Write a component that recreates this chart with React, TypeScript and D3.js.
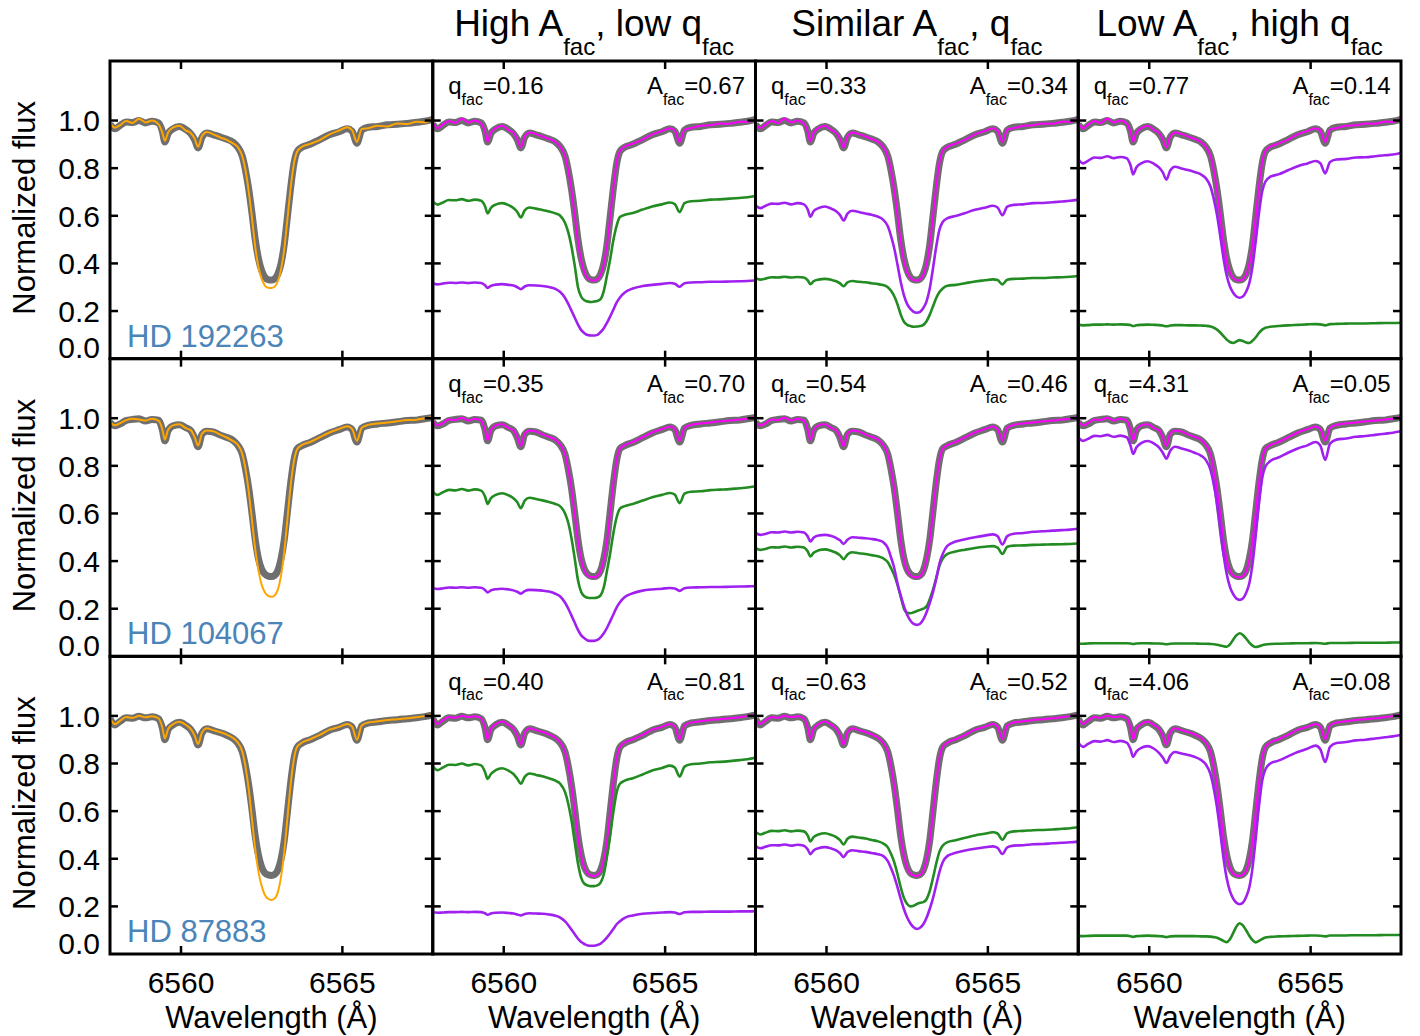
import React from 'react';
import * as d3 from 'd3';

// ---------------- DATA ----------------
const wavelength = [6557.8, 6557.95, 6558.1, 6558.3, 6558.5, 6558.7, 6558.9, 6559.1, 6559.3, 6559.42, 6559.5, 6559.6, 6559.75, 6559.95, 6560.15, 6560.3, 6560.42, 6560.53, 6560.65, 6560.8, 6561.0, 6561.2, 6561.4, 6561.6, 6561.75, 6561.9, 6562.0, 6562.1, 6562.2, 6562.3, 6562.4, 6562.5, 6562.6, 6562.7, 6562.8, 6562.9, 6563.0, 6563.1, 6563.2, 6563.3, 6563.4, 6563.5, 6563.6, 6563.75, 6564.0, 6564.3, 6564.6, 6564.9, 6565.15, 6565.3, 6565.45, 6565.6, 6565.8, 6566.1, 6566.4, 6566.7, 6567.0, 6567.3, 6567.55, 6567.8];

const obsR1 = [0.985, 0.965, 0.978, 0.994, 0.992, 1.0, 0.99, 0.997, 0.99, 0.955, 0.91, 0.945, 0.965, 0.975, 0.962, 0.945, 0.92, 0.885, 0.93, 0.948, 0.94, 0.932, 0.922, 0.91, 0.89, 0.85, 0.79, 0.71, 0.61, 0.5, 0.42, 0.37, 0.342, 0.332, 0.33, 0.335, 0.355, 0.4, 0.48, 0.6, 0.72, 0.82, 0.87, 0.888, 0.9, 0.92, 0.94, 0.953, 0.965, 0.955, 0.905, 0.96, 0.972, 0.975, 0.982, 0.984, 0.988, 0.993, 0.997, 1.005];
const obsR2 = [0.983, 0.968, 0.975, 0.99, 0.995, 0.998, 0.988, 0.995, 0.992, 0.952, 0.905, 0.948, 0.968, 0.972, 0.96, 0.948, 0.918, 0.88, 0.932, 0.945, 0.942, 0.93, 0.92, 0.908, 0.888, 0.848, 0.785, 0.705, 0.6, 0.49, 0.41, 0.365, 0.345, 0.337, 0.335, 0.34, 0.36, 0.41, 0.49, 0.61, 0.73, 0.825, 0.872, 0.885, 0.898, 0.918, 0.938, 0.952, 0.963, 0.952, 0.9, 0.958, 0.97, 0.976, 0.98, 0.985, 0.99, 0.992, 0.998, 1.003];
const obsR3 = [0.988, 0.962, 0.976, 0.992, 0.99, 0.998, 0.992, 0.996, 0.988, 0.95, 0.9, 0.942, 0.962, 0.973, 0.96, 0.943, 0.915, 0.878, 0.928, 0.946, 0.938, 0.93, 0.92, 0.906, 0.887, 0.848, 0.788, 0.708, 0.605, 0.495, 0.415, 0.365, 0.34, 0.332, 0.33, 0.334, 0.352, 0.398, 0.478, 0.6, 0.722, 0.82, 0.868, 0.886, 0.9, 0.918, 0.94, 0.952, 0.964, 0.953, 0.898, 0.958, 0.97, 0.975, 0.981, 0.984, 0.988, 0.992, 0.997, 1.004];

const singleR1 = [0.99, 0.97, 0.98, 0.998, 0.99, 1.008, 0.992, 1.0, 0.985, 0.95, 0.915, 0.95, 0.97, 0.978, 0.958, 0.948, 0.925, 0.89, 0.935, 0.952, 0.942, 0.93, 0.92, 0.905, 0.89, 0.85, 0.79, 0.7, 0.59, 0.47, 0.385, 0.335, 0.307, 0.298, 0.297, 0.302, 0.325, 0.375, 0.46, 0.59, 0.72, 0.82, 0.87, 0.89, 0.902, 0.918, 0.942, 0.958, 0.972, 0.96, 0.91, 0.965, 0.968, 0.978, 0.975, 0.988, 0.985, 0.995, 0.992, 1.008];
const singleR2 = [0.985, 0.97, 0.978, 0.992, 0.998, 0.995, 0.99, 0.998, 0.99, 0.955, 0.91, 0.952, 0.97, 0.975, 0.958, 0.95, 0.922, 0.885, 0.935, 0.948, 0.945, 0.932, 0.92, 0.905, 0.89, 0.85, 0.785, 0.69, 0.57, 0.45, 0.36, 0.3, 0.268, 0.254, 0.25, 0.256, 0.28, 0.34, 0.44, 0.58, 0.72, 0.82, 0.87, 0.888, 0.9, 0.92, 0.94, 0.955, 0.966, 0.955, 0.905, 0.96, 0.972, 0.978, 0.982, 0.987, 0.992, 0.994, 1.0, 1.005];
const singleR3 = [0.99, 0.965, 0.978, 0.995, 0.992, 1.0, 0.994, 0.998, 0.99, 0.952, 0.905, 0.945, 0.965, 0.975, 0.962, 0.945, 0.918, 0.882, 0.93, 0.948, 0.94, 0.932, 0.922, 0.908, 0.89, 0.85, 0.785, 0.69, 0.565, 0.44, 0.345, 0.285, 0.248, 0.232, 0.227, 0.233, 0.26, 0.325, 0.43, 0.575, 0.715, 0.82, 0.87, 0.888, 0.902, 0.92, 0.942, 0.954, 0.966, 0.955, 0.9, 0.96, 0.972, 0.977, 0.983, 0.986, 0.99, 0.994, 0.999, 1.006];

const fitR1 = [0.99, 0.968, 0.982, 0.998, 0.99, 1.008, 0.992, 1.0, 0.988, 0.952, 0.912, 0.95, 0.968, 0.978, 0.96, 0.948, 0.922, 0.888, 0.933, 0.95, 0.943, 0.933, 0.923, 0.91, 0.89, 0.85, 0.79, 0.705, 0.6, 0.49, 0.41, 0.362, 0.338, 0.33, 0.328, 0.333, 0.352, 0.398, 0.478, 0.6, 0.725, 0.825, 0.872, 0.89, 0.903, 0.92, 0.942, 0.956, 0.968, 0.958, 0.91, 0.962, 0.968, 0.978, 0.98, 0.988, 0.986, 0.995, 0.994, 1.008];
const fitR2 = [0.988, 0.97, 0.978, 0.995, 0.992, 1.002, 0.99, 0.998, 0.99, 0.95, 0.908, 0.95, 0.97, 0.975, 0.958, 0.95, 0.92, 0.883, 0.935, 0.948, 0.944, 0.932, 0.922, 0.91, 0.889, 0.848, 0.785, 0.7, 0.595, 0.485, 0.405, 0.36, 0.34, 0.333, 0.332, 0.337, 0.357, 0.405, 0.486, 0.608, 0.73, 0.826, 0.872, 0.887, 0.9, 0.92, 0.94, 0.954, 0.965, 0.955, 0.905, 0.96, 0.972, 0.978, 0.982, 0.987, 0.99, 0.995, 0.998, 1.006];
const fitR3 = [0.99, 0.966, 0.98, 0.995, 0.992, 1.0, 0.995, 0.998, 0.99, 0.948, 0.903, 0.945, 0.965, 0.976, 0.962, 0.946, 0.918, 0.88, 0.93, 0.948, 0.94, 0.932, 0.922, 0.908, 0.888, 0.848, 0.786, 0.704, 0.6, 0.49, 0.41, 0.362, 0.337, 0.33, 0.328, 0.332, 0.35, 0.396, 0.476, 0.6, 0.724, 0.822, 0.87, 0.888, 0.902, 0.92, 0.942, 0.954, 0.966, 0.955, 0.902, 0.96, 0.972, 0.977, 0.983, 0.986, 0.99, 0.994, 0.999, 1.006];

// facular (green) and other (purple) components, rows 1-3, columns 2-4
const greenR1C2 = [0.66, 0.647, 0.655, 0.666, 0.665, 0.67, 0.663, 0.668, 0.663, 0.64, 0.61, 0.633, 0.647, 0.653, 0.645, 0.633, 0.616, 0.593, 0.623, 0.635, 0.63, 0.624, 0.618, 0.61, 0.6, 0.57, 0.53, 0.47, 0.39, 0.3, 0.26, 0.245, 0.24, 0.238, 0.24, 0.242, 0.25, 0.285, 0.35, 0.42, 0.5, 0.56, 0.595, 0.604, 0.612, 0.626, 0.639, 0.648, 0.656, 0.649, 0.615, 0.653, 0.661, 0.663, 0.668, 0.669, 0.672, 0.675, 0.678, 0.683];
const purpleR1C2 = [0.317, 0.312, 0.315, 0.319, 0.318, 0.32, 0.318, 0.32, 0.318, 0.308, 0.297, 0.306, 0.311, 0.313, 0.31, 0.307, 0.3, 0.292, 0.303, 0.308, 0.307, 0.305, 0.301, 0.293, 0.28, 0.255, 0.23, 0.201, 0.172, 0.143, 0.12, 0.107, 0.099, 0.097, 0.097, 0.1, 0.112, 0.128, 0.151, 0.178, 0.207, 0.236, 0.257, 0.278, 0.295, 0.305, 0.31, 0.314, 0.318, 0.315, 0.302, 0.317, 0.32, 0.321, 0.323, 0.323, 0.324, 0.325, 0.326, 0.328];
const greenR1C3 = [0.339, 0.332, 0.336, 0.342, 0.341, 0.344, 0.341, 0.343, 0.341, 0.329, 0.313, 0.325, 0.332, 0.335, 0.331, 0.325, 0.316, 0.304, 0.32, 0.326, 0.323, 0.321, 0.317, 0.313, 0.309, 0.3, 0.285, 0.262, 0.228, 0.185, 0.155, 0.142, 0.137, 0.134, 0.135, 0.137, 0.142, 0.157, 0.185, 0.22, 0.255, 0.28, 0.295, 0.306, 0.31, 0.317, 0.324, 0.329, 0.333, 0.33, 0.312, 0.331, 0.335, 0.336, 0.339, 0.339, 0.341, 0.342, 0.344, 0.347];
const purpleR1C3 = [0.645, 0.632, 0.641, 0.651, 0.65, 0.655, 0.648, 0.653, 0.648, 0.626, 0.596, 0.619, 0.632, 0.639, 0.63, 0.619, 0.603, 0.58, 0.609, 0.621, 0.616, 0.61, 0.604, 0.596, 0.584, 0.556, 0.515, 0.463, 0.394, 0.322, 0.266, 0.229, 0.209, 0.197, 0.193, 0.197, 0.213, 0.241, 0.296, 0.38, 0.471, 0.542, 0.574, 0.59, 0.599, 0.612, 0.625, 0.634, 0.642, 0.635, 0.602, 0.638, 0.646, 0.648, 0.653, 0.654, 0.657, 0.66, 0.663, 0.668];
const greenR1C4 = [0.142, 0.14, 0.141, 0.143, 0.143, 0.144, 0.143, 0.144, 0.143, 0.141, 0.137, 0.14, 0.142, 0.143, 0.142, 0.141, 0.139, 0.136, 0.139, 0.141, 0.141, 0.14, 0.14, 0.139, 0.138, 0.135, 0.13, 0.122, 0.11, 0.095, 0.08, 0.07, 0.066, 0.072, 0.078, 0.074, 0.068, 0.066, 0.075, 0.09, 0.108, 0.122, 0.13, 0.134, 0.137, 0.14, 0.142, 0.144, 0.145, 0.144, 0.14, 0.145, 0.146, 0.147, 0.148, 0.148, 0.149, 0.15, 0.15, 0.151];
const purpleR1C4 = [0.837, 0.82, 0.831, 0.845, 0.843, 0.85, 0.842, 0.847, 0.842, 0.812, 0.774, 0.803, 0.82, 0.829, 0.818, 0.803, 0.782, 0.752, 0.79, 0.806, 0.799, 0.792, 0.784, 0.774, 0.758, 0.722, 0.67, 0.603, 0.515, 0.422, 0.349, 0.303, 0.277, 0.261, 0.256, 0.261, 0.281, 0.317, 0.388, 0.495, 0.612, 0.703, 0.744, 0.764, 0.774, 0.791, 0.808, 0.82, 0.83, 0.821, 0.778, 0.826, 0.836, 0.839, 0.845, 0.846, 0.85, 0.854, 0.857, 0.864];

const greenR2C2 = [0.692, 0.678, 0.688, 0.699, 0.697, 0.703, 0.696, 0.701, 0.696, 0.671, 0.64, 0.664, 0.678, 0.685, 0.676, 0.664, 0.647, 0.622, 0.654, 0.666, 0.661, 0.655, 0.648, 0.64, 0.63, 0.6, 0.56, 0.495, 0.41, 0.32, 0.27, 0.252, 0.246, 0.245, 0.245, 0.247, 0.256, 0.29, 0.36, 0.435, 0.52, 0.585, 0.62, 0.631, 0.64, 0.654, 0.668, 0.678, 0.686, 0.679, 0.643, 0.683, 0.691, 0.693, 0.698, 0.7, 0.702, 0.706, 0.709, 0.714];
const purpleR2C2 = [0.287, 0.283, 0.285, 0.289, 0.288, 0.29, 0.288, 0.29, 0.288, 0.279, 0.268, 0.277, 0.282, 0.284, 0.281, 0.277, 0.271, 0.263, 0.274, 0.279, 0.278, 0.276, 0.272, 0.263, 0.251, 0.225, 0.2, 0.171, 0.141, 0.111, 0.088, 0.076, 0.067, 0.065, 0.065, 0.069, 0.08, 0.097, 0.12, 0.148, 0.177, 0.206, 0.227, 0.249, 0.265, 0.276, 0.281, 0.284, 0.287, 0.285, 0.275, 0.286, 0.289, 0.29, 0.291, 0.291, 0.292, 0.293, 0.294, 0.295];
const greenR2C3 = [0.456, 0.447, 0.451, 0.458, 0.457, 0.461, 0.457, 0.46, 0.457, 0.44, 0.419, 0.435, 0.445, 0.449, 0.443, 0.435, 0.424, 0.408, 0.428, 0.437, 0.433, 0.43, 0.425, 0.42, 0.412, 0.395, 0.37, 0.34, 0.3, 0.25, 0.2, 0.183, 0.181, 0.185, 0.19, 0.195, 0.2, 0.21, 0.24, 0.28, 0.33, 0.38, 0.41, 0.43, 0.44, 0.448, 0.455, 0.46, 0.463, 0.457, 0.43, 0.46, 0.465, 0.466, 0.468, 0.469, 0.47, 0.471, 0.472, 0.474];
const purpleR2C3 = [0.518, 0.51, 0.514, 0.521, 0.52, 0.524, 0.52, 0.523, 0.52, 0.503, 0.482, 0.498, 0.507, 0.51, 0.505, 0.497, 0.487, 0.472, 0.49, 0.5, 0.498, 0.496, 0.493, 0.488, 0.48, 0.455, 0.415, 0.37, 0.305, 0.255, 0.21, 0.175, 0.15, 0.136, 0.132, 0.137, 0.155, 0.185, 0.225, 0.27, 0.325, 0.39, 0.43, 0.465, 0.482, 0.492, 0.5, 0.507, 0.512, 0.505, 0.47, 0.505, 0.515, 0.518, 0.523, 0.525, 0.528, 0.53, 0.532, 0.536];
const greenR2C4 = [0.054, 0.053, 0.054, 0.055, 0.055, 0.055, 0.055, 0.055, 0.055, 0.054, 0.052, 0.054, 0.055, 0.055, 0.054, 0.054, 0.053, 0.051, 0.053, 0.054, 0.054, 0.054, 0.054, 0.053, 0.053, 0.052, 0.051, 0.049, 0.046, 0.042, 0.04, 0.05, 0.07, 0.088, 0.097, 0.09, 0.075, 0.058, 0.045, 0.039, 0.042, 0.047, 0.05, 0.052, 0.053, 0.054, 0.055, 0.055, 0.056, 0.055, 0.053, 0.056, 0.056, 0.056, 0.057, 0.057, 0.057, 0.057, 0.058, 0.058];
const purpleR2C4 = [0.92, 0.905, 0.913, 0.926, 0.924, 0.93, 0.922, 0.927, 0.92, 0.885, 0.85, 0.877, 0.895, 0.904, 0.893, 0.877, 0.855, 0.83, 0.863, 0.88, 0.873, 0.865, 0.855, 0.843, 0.825, 0.782, 0.722, 0.643, 0.54, 0.431, 0.346, 0.292, 0.261, 0.243, 0.237, 0.243, 0.266, 0.307, 0.389, 0.511, 0.645, 0.75, 0.797, 0.82, 0.835, 0.855, 0.873, 0.886, 0.9, 0.885, 0.825, 0.893, 0.91, 0.915, 0.922, 0.925, 0.93, 0.935, 0.939, 0.945];

const greenR3C2 = [0.788, 0.772, 0.782, 0.795, 0.794, 0.8, 0.792, 0.798, 0.792, 0.764, 0.735, 0.756, 0.772, 0.78, 0.77, 0.756, 0.736, 0.715, 0.744, 0.758, 0.752, 0.746, 0.738, 0.728, 0.715, 0.68, 0.63, 0.56, 0.47, 0.38, 0.32, 0.295, 0.288, 0.285, 0.285, 0.288, 0.3, 0.335, 0.41, 0.5, 0.6, 0.68, 0.715, 0.728, 0.738, 0.754, 0.771, 0.781, 0.791, 0.783, 0.745, 0.787, 0.797, 0.8, 0.805, 0.807, 0.81, 0.814, 0.818, 0.824];
const purpleR3C2 = [0.175, 0.173, 0.174, 0.176, 0.176, 0.177, 0.176, 0.177, 0.176, 0.171, 0.165, 0.17, 0.173, 0.174, 0.172, 0.17, 0.166, 0.162, 0.168, 0.171, 0.17, 0.169, 0.166, 0.161, 0.153, 0.137, 0.121, 0.102, 0.083, 0.064, 0.05, 0.042, 0.036, 0.035, 0.035, 0.038, 0.044, 0.055, 0.07, 0.087, 0.106, 0.125, 0.138, 0.152, 0.162, 0.169, 0.172, 0.174, 0.176, 0.174, 0.168, 0.175, 0.177, 0.177, 0.178, 0.178, 0.178, 0.179, 0.179, 0.18];
const greenR3C3 = [0.512, 0.502, 0.509, 0.517, 0.516, 0.52, 0.515, 0.518, 0.515, 0.497, 0.473, 0.491, 0.502, 0.507, 0.5, 0.491, 0.478, 0.46, 0.484, 0.493, 0.489, 0.485, 0.479, 0.473, 0.465, 0.448, 0.42, 0.385, 0.335, 0.28, 0.235, 0.21, 0.2, 0.203, 0.21, 0.215, 0.218, 0.23, 0.265, 0.32, 0.38, 0.43, 0.455, 0.47, 0.478, 0.488, 0.498, 0.505, 0.511, 0.506, 0.48, 0.508, 0.515, 0.517, 0.52, 0.521, 0.523, 0.526, 0.528, 0.532];
const purpleR3C3 = [0.453, 0.444, 0.45, 0.457, 0.456, 0.46, 0.455, 0.459, 0.455, 0.439, 0.419, 0.435, 0.444, 0.449, 0.443, 0.435, 0.423, 0.407, 0.428, 0.436, 0.432, 0.429, 0.424, 0.419, 0.412, 0.39, 0.36, 0.325, 0.28, 0.232, 0.188, 0.153, 0.128, 0.112, 0.105, 0.11, 0.125, 0.152, 0.19, 0.235, 0.29, 0.345, 0.385, 0.412, 0.425, 0.435, 0.442, 0.448, 0.452, 0.446, 0.42, 0.448, 0.455, 0.457, 0.461, 0.462, 0.465, 0.467, 0.469, 0.472];
const greenR3C4 = [0.076, 0.075, 0.076, 0.077, 0.077, 0.077, 0.077, 0.077, 0.077, 0.075, 0.072, 0.075, 0.076, 0.077, 0.076, 0.075, 0.074, 0.071, 0.074, 0.075, 0.075, 0.075, 0.075, 0.074, 0.074, 0.073, 0.071, 0.068, 0.062, 0.055, 0.05, 0.062, 0.088, 0.115, 0.129, 0.12, 0.1, 0.077, 0.058, 0.049, 0.055, 0.063, 0.069, 0.072, 0.074, 0.075, 0.076, 0.077, 0.078, 0.077, 0.074, 0.078, 0.078, 0.078, 0.079, 0.079, 0.079, 0.08, 0.08, 0.08];
const purpleR3C4 = [0.888, 0.87, 0.882, 0.894, 0.892, 0.898, 0.89, 0.895, 0.888, 0.86, 0.828, 0.85, 0.866, 0.873, 0.862, 0.845, 0.825, 0.802, 0.832, 0.848, 0.842, 0.836, 0.828, 0.815, 0.797, 0.754, 0.694, 0.615, 0.512, 0.403, 0.318, 0.264, 0.233, 0.215, 0.209, 0.215, 0.239, 0.28, 0.363, 0.487, 0.623, 0.729, 0.776, 0.8, 0.812, 0.83, 0.848, 0.862, 0.875, 0.86, 0.806, 0.87, 0.886, 0.89, 0.897, 0.9, 0.905, 0.91, 0.914, 0.92];

const starNames = ['HD 192263', 'HD 104067', 'HD 87883'];
const qFac = [['0.16', '0.33', '0.77'], ['0.35', '0.54', '4.31'], ['0.40', '0.63', '4.06']];
const aFac = [['0.67', '0.34', '0.14'], ['0.70', '0.46', '0.05'], ['0.81', '0.52', '0.08']];
const titleParts = [['High A', ', low q'], ['Similar A', ', q'], ['Low A', ', high q']];
const yTicks = [0.0, 0.2, 0.4, 0.6, 0.8, 1.0];
const xTicks = [6560, 6565];

const obsRows = [obsR1, obsR2, obsR3];
const singleRows = [singleR1, singleR2, singleR3];
const fitRows = [fitR1, fitR2, fitR3];
const greenRows = [[greenR1C2, greenR1C3, greenR1C4], [greenR2C2, greenR2C3, greenR2C4], [greenR3C2, greenR3C3, greenR3C4]];
const purpleRows = [[purpleR1C2, purpleR1C3, purpleR1C4], [purpleR2C2, purpleR2C3, purpleR2C4], [purpleR3C2, purpleR3C3, purpleR3C4]];

// ---------------- LAYOUT ----------------
const W = 1420;
const H = 1036;
const LEFT = 110;
const TOP = 61;
const PW = 322.75;
const PH = 297.67;
const FONT = '"Liberation Sans", Arial, Helvetica, sans-serif';

const xs = d3.scaleLinear().domain([6557.8, 6567.8]).range([0, PW]);
const ys = d3.scaleLinear().domain([0, 1.25]).range([PH, 0]);

function pathOf(vals: number[]): string {
  const n = Math.min(vals.length, wavelength.length);
  const pts: [number, number][] = [];
  for (let i = 0; i < n; i++) pts.push([wavelength[i], vals[i]]);
  return d3.line<[number, number]>()
    .x(d => xs(d[0]))
    .y(d => ys(d[1]))
    .curve(d3.curveMonotoneX)(pts) || '';
}

const COL = {
  obs: '#6f6f6f',
  single: '#ffa500',
  fit: '#ff00ff',
  green: '#228b22',
  purple: '#a020f0',
  star: '#4a84b8',
};

function Panel({ r, c }: { r: number; c: number }) {
  const tx = LEFT + c * PW;
  const ty = TOP + r * PH;
  const clipId = `clip-${r}-${c}`;
  const lines: any[] = [];
  lines.push(<path key="obs" d={pathOf(obsRows[r])} fill="none" stroke={COL.obs} strokeWidth={7} strokeLinejoin="round" />);
  if (c === 0) {
    lines.push(<path key="single" d={pathOf(singleRows[r])} fill="none" stroke={COL.single} strokeWidth={2} />);
  } else {
    lines.push(<path key="fit" d={pathOf(fitRows[r])} fill="none" stroke={COL.fit} strokeWidth={2} />);
    lines.push(<path key="green" d={pathOf(greenRows[r][c - 1])} fill="none" stroke={COL.green} strokeWidth={2.6} />);
    lines.push(<path key="purple" d={pathOf(purpleRows[r][c - 1])} fill="none" stroke={COL.purple} strokeWidth={2.6} />);
  }
  const tickLen = 8;
  return (
    <g transform={`translate(${tx},${ty})`}>
      <defs>
        <clipPath id={clipId}>
          <rect x={0} y={0} width={PW} height={PH} />
        </clipPath>
      </defs>
      <g clipPath={`url(#${clipId})`}>{lines}</g>
      {yTicks.filter(v => v > 0).map(v => (
        <g key={`yt${v}`}>
          <line x1={0} x2={tickLen} y1={ys(v)} y2={ys(v)} stroke="#000" strokeWidth={2.5} />
          <line x1={PW - tickLen} x2={PW} y1={ys(v)} y2={ys(v)} stroke="#000" strokeWidth={2.5} />
        </g>
      ))}
      {xTicks.map(v => (
        <g key={`xt${v}`}>
          <line x1={xs(v)} x2={xs(v)} y1={0} y2={tickLen} stroke="#000" strokeWidth={2.5} />
          <line x1={xs(v)} x2={xs(v)} y1={PH - tickLen} y2={PH} stroke="#000" strokeWidth={2.5} />
        </g>
      ))}
      <rect x={0} y={0} width={PW} height={PH} fill="none" stroke="#000" strokeWidth={3} />
      {c === 0 && (
        <text x={17} y={PH - 12} fontSize={31} fill={COL.star} fontFamily={FONT}>{starNames[r]}</text>
      )}
      {c > 0 && (
        <g fontFamily={FONT} fill="#000">
          <text x={15.5} y={33.3} fontSize={24}>
            <tspan>q</tspan>
            <tspan fontSize={16} dy={10.7}>fac</tspan>
            <tspan dy={-10.7}>={qFac[r][c - 1]}</tspan>
          </text>
          <text x={PW - 10.5} y={33.3} fontSize={24} textAnchor="end">
            <tspan>A</tspan>
            <tspan fontSize={16} dy={10.7}>fac</tspan>
            <tspan dy={-10.7}>={aFac[r][c - 1]}</tspan>
          </text>
        </g>
      )}
    </g>
  );
}

export default function App() {
  const rows = [0, 1, 2];
  const cols = [0, 1, 2, 3];
  return (
    <svg width={W} height={H} viewBox={`0 0 ${W} ${H}`}
      style={{ position: 'absolute', left: 0, top: 0, display: 'block', background: '#fff' }}>
      <rect x={0} y={0} width={W} height={H} fill="#fff" />
      {rows.map(r => cols.map(c => <Panel key={`${r}-${c}`} r={r} c={c} />))}
      {rows.map(r => (
        <g key={`yl${r}`} fontFamily={FONT} fontSize={30} fill="#000">
          {yTicks.map(v => (
            <text key={v} x={LEFT - 10} y={TOP + r * PH + ys(v) + (v === 0 ? -0.5 : 10.8)} textAnchor="end">
              {v.toFixed(1)}
            </text>
          ))}
          <text transform={`translate(35,${TOP + r * PH + PH / 2 - 2}) rotate(-90)`} textAnchor="middle" fontSize={31}>
            Normalized flux
          </text>
        </g>
      ))}
      {cols.map(c => (
        <g key={`xl${c}`} fontFamily={FONT} fill="#000">
          {xTicks.map(v => (
            <text key={v} x={LEFT + c * PW + xs(v)} y={993} fontSize={30} textAnchor="middle">{v}</text>
          ))}
          <text x={LEFT + c * PW + PW / 2} y={1028} fontSize={31} textAnchor="middle">Wavelength (Å)</text>
        </g>
      ))}
      {titleParts.map((tp, i) => (
        <text key={`t${i}`} x={LEFT + (i + 1) * PW + PW / 2} y={36} fontFamily={FONT} fontSize={37}
          textAnchor="middle" fill="#000">
          <tspan>{tp[0]}</tspan>
          <tspan fontSize={24} dy={19}>fac</tspan>
          <tspan dy={-19}>{tp[1]}</tspan>
          <tspan fontSize={24} dy={19}>fac</tspan>
        </text>
      ))}
    </svg>
  );
}
